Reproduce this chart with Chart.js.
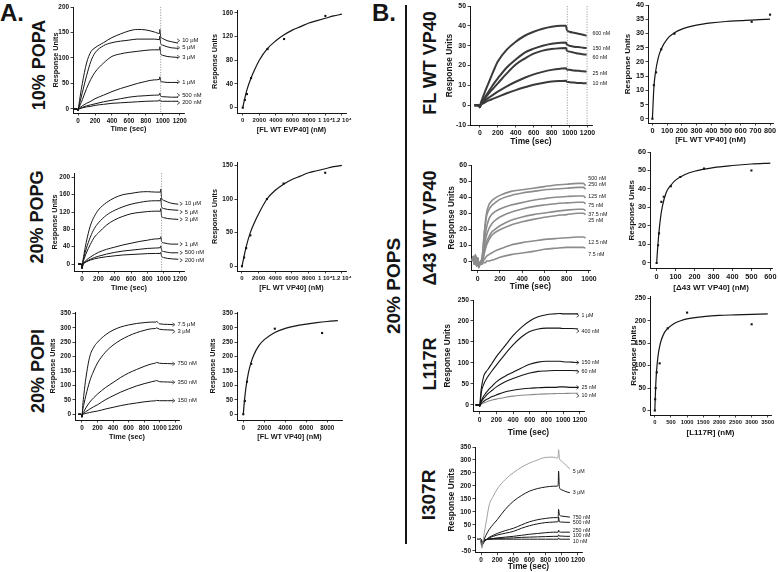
<!DOCTYPE html>
<html>
<head>
<meta charset="utf-8">
<title>VP40 lipid binding (SPR)</title>
<script src="https://cdn.jsdelivr.net/npm/chart.js@4.4.1/dist/chart.umd.min.js"></script>
<style>
  html, body { margin: 0; padding: 0; background: #fff; }
  body { position: relative; width: 778px; height: 572px; overflow: hidden;
         font-family: "Liberation Sans", Arial, sans-serif; color: #151515; }
  canvas { position: absolute; }
  .lbl { position: absolute; font-weight: bold; white-space: nowrap; line-height: 1; }
  .v { transform: translate(-50%, -50%) rotate(-90deg); }
  .rule { position: absolute; left: 405px; top: 5px; width: 2px; height: 539px; background: #151515; }
</style>
</head>
<body>
<div class="lbl" style="left:0px;top:1px;font-size:24px">A.</div>
<div class="lbl" style="left:372px;top:1px;font-size:24px">B.</div>
<div class="lbl v" style="left:39px;top:65px;font-size:18px">10% POPA</div>
<div class="lbl v" style="left:37px;top:217px;font-size:18px">20% POPG</div>
<div class="lbl v" style="left:38px;top:371px;font-size:18px">20% POPI</div>
<div class="lbl v" style="left:393px;top:286px;font-size:19px">20% POPS</div>
<div class="lbl v" style="left:430px;top:63px;font-size:18px">FL WT VP40</div>
<div class="lbl v" style="left:430px;top:228px;font-size:18px">Δ43 WT VP40</div>
<div class="lbl v" style="left:430px;top:364px;font-size:18px">L117R</div>
<div class="lbl v" style="left:428px;top:495px;font-size:19px">I307R</div>
<div class="rule"></div>

<script>
// ---------- values ----------

// A. 10% POPA  (time in s, response in RU)
const popaTime = [-50, -10, 0, 10, 25, 50, 100, 150, 200, 300, 400, 500, 600, 700, 800, 900, 960, 965, 975, 1000, 1050, 1100, 1180];
const popaConc = ['10 μM', '5 μM', '3 μM', '1 μM', '500 nM', '200 nM'];
const popaRU = [
  [0, 0, -3, 8, 25, 50, 90, 112, 120, 130, 140, 147, 153, 156, 155, 151, 148, 156, 142, 138, 134, 132, 129],
  [0, 0, -3, 5, 15, 32, 65, 93, 110, 124, 130, 133, 135, 137, 137, 137, 136, 143, 128, 125, 122, 120, 119],
  [0, 0, -3, 3, 8, 18, 40, 58, 72, 90, 103, 108, 111, 113, 115, 116, 116, 122, 108, 105, 103, 102, 101],
  [0, 0, -3, 1, 3, 6, 11, 15, 20, 27, 34, 40, 45, 50, 54, 57, 58, 63, 54, 53, 52, 52, 52],
  [0, 0, -3, 0, 1, 3, 6, 8, 10, 14, 17, 20, 23, 25, 26, 27, 27.5, 31, 25, 24, 23.5, 23, 23],
  [0, 0, -3, 0, 1, 2, 4, 5, 7, 9, 11, 12, 13, 14, 15, 15.5, 16, 18, 15, 15, 15, 15, 15]
];
const popaTagRU = [134, 120, 102, 53, 27, 12];
const popaBindNM = [0, 250, 500, 1000, 3000, 5000, 10000];
const popaBindRU = [0, 13, 23, 50, 99, 116, 155];
const popaFitNM = [0, 250, 500, 1000, 1500, 2000, 3000, 4000, 5000, 6000, 7000, 8000, 9000, 10000, 11000, 12000];
const popaFitRU = [0, 16, 30, 50, 66, 80, 100, 113, 123, 131, 137, 143, 147, 151, 155, 158];

// A. 20% POPG
const popgTime = [-50, -10, 0, 10, 25, 50, 100, 150, 200, 300, 400, 500, 600, 700, 800, 900, 960, 965, 975, 1000, 1050, 1100, 1180];
const popgConc = ['10 μM', '5 μM', '3 μM', '1 μM', '500 nM', '200 nM'];
const popgRU = [
  [0, 0, -10, 8, 25, 50, 88, 110, 125, 142, 153, 160, 163, 166, 167, 166, 166, 173, 152, 147, 143, 140, 138],
  [0, 0, -10, 5, 18, 35, 62, 82, 95, 113, 124, 132, 138, 142, 145, 146, 146, 152, 132, 128, 126, 125, 124],
  [0, 0, -10, 3, 12, 25, 45, 62, 72, 90, 102, 110, 116, 119, 121, 122, 122, 128, 110, 107, 105, 104, 103],
  [0, 0, -10, 1, 4, 9, 16, 22, 27, 34, 39, 44, 48, 52, 55, 58, 59, 63, 52, 49, 47, 46, 46],
  [0, 0, -10, 0, 3, 6, 11, 15, 18, 23, 27, 30, 32, 34, 36, 37, 38, 42, 32, 29, 27, 26, 26],
  [0, 0, -10, 0, 2, 5, 9, 12, 14, 17, 19, 21, 22, 23, 24, 24.5, 24.5, 27, 18, 15, 13, 12, 11]
];
const popgTagRU = [139, 120, 103, 46, 26, 9];
const popgBindNM = [0, 250, 500, 1000, 3000, 5000, 10000];
const popgBindRU = [0, 13, 27, 46, 100, 123, 139];
const popgFitNM = [0, 250, 500, 1000, 1500, 2000, 3000, 4000, 5000, 6000, 7000, 8000, 9000, 10000, 11000, 12000];
const popgFitRU = [0, 15, 29, 50, 65, 78, 100, 113, 122, 129, 134, 139, 142, 145, 148, 150];

// A. 20% POPI
const popiTime = [-50, -10, 0, 10, 25, 50, 100, 150, 200, 300, 400, 500, 600, 700, 800, 900, 950, 960, 1000, 1100, 1180];
const popiConc = ['7.5 μM', '3 μM', '750 nM', '350 nM', '150 nM'];
const popiRU = [
  [0, 0, -10, 30, 70, 125, 200, 232, 250, 275, 292, 303, 310, 315, 318, 320, 320, 322, 314, 312, 311],
  [0, 0, -10, 15, 35, 65, 115, 150, 178, 215, 240, 258, 272, 283, 291, 297, 298, 300, 295, 293, 292],
  [0, 0, -10, 3, 10, 22, 42, 57, 70, 92, 110, 128, 143, 155, 166, 175, 178, 180, 177, 176, 175],
  [0, 0, -10, 1, 4, 9, 18, 26, 33, 50, 64, 77, 88, 98, 106, 113, 116, 117, 113, 112, 111],
  [0, 0, -10, 0, 1, 3, 6, 9, 11, 18, 24, 30, 35, 39, 43, 46, 47, 48, 47, 47, 47]
];
const popiTagRU = [311, 287, 175, 111, 47];
const popiBindNM = [0, 150, 350, 750, 3000, 7500];
const popiBindRU = [0, 46, 113, 175, 297, 282];
const popiFitNM = [0, 100, 250, 500, 750, 1000, 1500, 2000, 3000, 4000, 5000, 6000, 7000, 8000, 9000];
const popiFitRU = [0, 44, 92, 146, 181, 206, 239, 259, 284, 298, 307, 313, 318, 322, 325];

// B. 20% POPS, FL WT VP40
const flTime = [-60, -30, -10, 0, 10, 25, 50, 100, 150, 200, 300, 400, 500, 600, 700, 800, 900, 960, 970, 1000, 1050, 1100, 1150, 1190];
const flConc = ['600 nM', '150 nM', '60 nM', '25 nM', '10 nM'];
const flRU = [
  [0, 0, 0, -1, 1, 3, 6, 11.5, 17, 22, 28, 32, 35, 37, 38.5, 39.5, 40, 40, 38, 37, 36.5, 36, 35.5, 35],
  [0, 0, 0, -1, 0.5, 1.5, 3.5, 7, 10.5, 13.5, 19, 23, 26.5, 28.5, 30, 31, 31.5, 31.6, 30.5, 30, 29.5, 29.3, 29, 28.8],
  [0, 0, 0, -1, 0.5, 1.5, 3, 6, 8.5, 11, 16, 20.5, 23.5, 26, 27.5, 28.3, 28.7, 28.8, 27.5, 27, 26.5, 26, 25.7, 25.4],
  [0, 0, 0, -1, 0.3, 1, 2, 3.8, 5.3, 6.8, 9.5, 11.8, 13.8, 15.5, 16.8, 17.8, 18.4, 18.6, 18, 17.8, 17.5, 17.3, 17.1, 17],
  [0, 0, 0, -1, 0.2, 0.6, 1.2, 2.4, 3.3, 4.2, 6, 7.6, 9, 10.3, 11.2, 11.9, 12.2, 12.3, 11.8, 11.6, 11.4, 11.2, 11.1, 11]
];
const flTagRU = [36, 28.4, 24, 16.1, 10.7];
const flBindNM = [0, 10, 25, 60, 150, 675, 800];
const flBindRU = [0, 11.8, 16.3, 24.4, 29.9, 34.1, 36.6];
const flFitNM = [0, 10, 20, 40, 60, 100, 150, 200, 300, 400, 500, 600, 700, 800];
const flFitRU = [0, 11, 16, 21.5, 24.5, 28, 30.2, 31.5, 32.9, 33.7, 34.2, 34.5, 34.8, 35];

// B. Δ43 WT VP40
const d43Time = [-50, -40, -30, -20, -10, 0, 10, 20, 30, 40, 50, 60, 70, 80, 100, 125, 150, 200, 300, 400, 500, 600, 700, 800, 900, 950, 970];
const d43Conc = ['500 nM', '250 nM', '125 nM', '75 nM', '37.5 nM', '25 nM', '12.5 nM', '7.5 nM'];
const d43RU = [
  [0, 3, -2, 4, -3, 2, -4, -1, 0, 2, 10, 18, 25, 30, 35, 37.5, 39, 41, 43.5, 44.5, 45.5, 46.5, 47.5, 48, 48.5, 48.5, 47],
  [0, 3, -2, 4, -3, 2, -4, -1, 0, 2, 9, 17, 23, 28, 32, 34.5, 36, 38.5, 41, 42.5, 43.5, 44.5, 45, 45.5, 46, 46, 45],
  [0, 3, -2, 4, -3, 2, -4, -1, 0, 1, 6, 12, 17, 21, 26, 29, 30.5, 32.5, 35, 36.5, 38, 39, 39.8, 40.3, 40.6, 40.6, 39.5],
  [0, 2, -2, 3, -3, 2, -4, -1, -1, 0, 4, 9, 13, 16, 20, 23, 25, 27.5, 30.5, 32.5, 34, 35, 35.8, 36.3, 36.7, 36.7, 35.8],
  [0, 2, -2, 3, -3, 1, -4, -2, -1, 0, 2, 6, 9, 12, 15, 18, 19.5, 22, 25.5, 27.5, 29, 30, 31, 31.8, 32.3, 32.3, 31.5],
  [0, 2, -2, 3, -3, 1, -4, -2, -1, 0, 2, 5, 7.5, 10, 13, 16, 17.5, 19.5, 22.5, 24.5, 26, 27.3, 28.3, 29, 29.8, 29.8, 29],
  [0, 2, -2, 3, -3, 1, -4, -2, -2, -1, 0, 1, 2, 3, 4, 5, 6, 7.5, 10, 11.5, 12.5, 13.5, 14, 14.5, 15, 15, 14.5],
  [0, 2, -2, 3, -3, 1, -4, -2, -2, -2, -1, -1, -1, 0, 0, 0.5, 1, 2.3, 4, 5, 6, 7.3, 8, 8.5, 8.5, 8.5, 8]
];
const d43TagRU = [51.3, 47.5, 40.6, 34.8, 29.2, 25.4, 11.5, 4.2];
const d43BindNM = [0, 7.5, 12.5, 25, 37.5, 75, 125, 250, 500];
const d43BindRU = [0, 9.6, 16, 33, 35.8, 41.5, 46.5, 51, 50];
const d43FitNM = [0, 5, 10, 20, 30, 50, 75, 100, 150, 200, 300, 400, 500, 600];
const d43FitRU = [0, 7.5, 14, 24, 30.5, 38, 42, 44.8, 47.8, 49.6, 51.6, 52.7, 53.5, 54];

// B. L117R
const l117Time = [-50, -10, 0, 10, 20, 50, 80, 100, 150, 200, 300, 400, 500, 600, 700, 800, 900, 960, 1000, 1100, 1180];
const l117Conc = ['1 μM', '400 nM', '150 nM', '60 nM', '25 nM', '10 nM'];
const l117RU = [
  [0, 0, -3, 20, 40, 70, 80, 85, 100, 115, 140, 165, 185, 200, 210, 215, 217, 218, 217, 217, 217],
  [0, 0, -3, 12, 30, 50, 62, 68, 82, 95, 120, 143, 162, 175, 181, 183, 183, 183, 182, 182, 181],
  [0, 0, -3, 4, 10, 22, 30, 35, 45, 55, 68, 78, 88, 97, 102, 104, 104, 104, 103, 102, 101],
  [0, 0, -3, 3, 8, 16, 23, 27, 35, 43, 55, 63, 70, 76, 80, 81, 82, 82, 82, 82, 81],
  [0, 0, -3, 1, 4, 9, 13, 15, 20, 24, 31, 35, 38, 40, 41, 42, 42, 43, 43, 42, 42],
  [0, 0, -3, 0, 2, 5, 7, 9, 12, 14, 18, 21, 23, 24.5, 25.5, 26.5, 27, 27.5, 27.5, 28, 28]
];
const l117TagRU = [213, 176, 101, 79, 42, 22];
const l117BindNM = [0, 10, 25, 60, 150, 400, 1000, 3000];
const l117BindRU = [0, 25, 50, 85, 105, 183, 218, 192];
const l117FitNM = [0, 25, 50, 100, 150, 200, 300, 400, 600, 800, 1000, 1500, 2000, 2500, 3000, 3500];
const l117FitRU = [0, 52, 85, 122, 143, 157, 174, 183, 194, 200, 204, 209, 212, 213, 214, 215];

// B. I307R
const i307Time = [-50, -10, 0, 10, 20, 40, 60, 100, 150, 200, 300, 400, 500, 600, 700, 800, 900, 940, 955, 960, 970, 1000, 1050, 1100];
const i307Conc = ['5 μM', '3 μM', '750 nM', '500 nM', '250 nM', '100 nM', '10 nM'];
const i307RU = [
  [-3, -3, -20, -40, -25, 20, 55, 125, 160, 188, 225, 251, 272, 288, 300, 310, 311, 307, 315, 340, 308, 295, 280, 265],
  [-3, -3, -15, -35, -25, -5, 10, 32, 52, 70, 110, 141, 163, 180, 190, 196, 199, 199, 205, 257, 195, 185, 178, 174],
  [-3, -3, -10, -30, -25, -15, -8, 2, 10, 17, 28, 37, 50, 62, 70, 75, 78, 78, 80, 110, 88, 84, 82, 80],
  [-3, -3, -10, -28, -22, -14, -8, 0, 6, 11, 18, 25, 37, 47, 54, 59, 61, 62, 63, 80, 62, 61, 60, 60],
  [-3, -3, -8, -25, -18, -12, -8, -4, -2, 0, 3, 6, 10, 14, 17, 20, 22, 22, 22, 30, 23, 22, 22, 22],
  [-3, -3, -8, -22, -15, -10, -7, -5, -3, -2, -1, 0, 2, 3, 4, 5, 6, 6, 6, 12, 7, 7, 6, 6],
  [-3, -3, -8, -20, -12, -8, -6, -5, -5, -5, -5, -5, -5, -5, -5, -5, -5, -5, -5, 0, -5, -5, -5, -5]
];
const i307TagRU = [255, 173, 80, 59, 28, 8, -14];

// tick values / labels
const secTicks = [0, 200, 400, 600, 800, 1000, 1200];
const secTicks1000 = [0, 200, 400, 600, 800, 1000];
const nmTicksA = [0, 2000, 4000, 6000, 8000, 10000, 12000];
const nmTickLabelsA = ['0', '2000', '4000', '6000', '8000', '1 10⁴', '1.2 10⁴'];
const nmTicksPopi = [0, 2000, 4000, 6000, 8000];
const ruTicksPopa = [0, 50, 100, 150, 200];
const ruTicksPopg = [0, 40, 80, 120, 160, 200];
const ruTicksPopi = [0, 50, 100, 150, 200, 250, 300, 350];
const ruTicksPopaBind = [0, 40, 80, 120, 160];
const ruTicksPopgBind = [0, 50, 100, 150];
const ruTicksFl = [-10, 0, 10, 20, 30, 40, 50];
const ruTicksFlBind = [0, 5, 10, 15, 20, 25, 30, 35, 40];
const nmTicksFl = [0, 100, 200, 300, 400, 500, 600, 700, 800];
const ruTicksD43 = [0, 10, 20, 30, 40, 50, 60];
const nmTicksD43 = [0, 100, 200, 300, 400, 500, 600];
const ruTicksL117 = [0, 50, 100, 150, 200, 250];
const nmTicksL117 = [0, 500, 1000, 1500, 2000, 2500, 3000, 3500];
const ruTicksI307 = [-50, 0, 50, 100, 150, 200, 250, 300, 350];

// ---------- drawing ----------
const INK = '#151515';
const FONT = '"Liberation Sans", Arial, sans-serif';
Chart.defaults.font.family = FONT;
Chart.defaults.color = INK;

// concentration tags, dotted injection marks
const tagPlugin = {
  id: 'tags',
  afterDatasetsDraw(chart, args, o) {
    const {ctx, chartArea: a} = chart;
    const x = chart.scales.x, y = chart.scales.y;
    ctx.save();
    ctx.strokeStyle = '#777';
    ctx.lineWidth = 0.7;
    ctx.setLineDash([1.2, 1.4]);
    (o.vlines || []).forEach(t => {
      const px = x.getPixelForValue(t);
      ctx.beginPath(); ctx.moveTo(px, a.top); ctx.lineTo(px, a.bottom); ctx.stroke();
    });
    ctx.setLineDash([]);
    if (o.text) {
      const px = x.getPixelForValue(o.at);
      ctx.font = o.size + 'px ' + FONT;
      ctx.fillStyle = INK;
      ctx.strokeStyle = INK;
      ctx.textBaseline = 'middle';
      o.text.forEach((s, i) => {
        const py = y.getPixelForValue(o.ru[i]);
        if (o.arrow) {
          ctx.beginPath();
          ctx.moveTo(px - 5, py - 1.8); ctx.lineTo(px - 2.5, py); ctx.lineTo(px - 5, py + 1.8);
          ctx.stroke();
        }
        ctx.fillText(s, px, py);
      });
    }
    ctx.restore();
  }
};

function traces(time, rows, colors, lw) {
  return rows.map((row, k) => ({
    data: time.map((t, i) => ({x: t, y: row[i]})),
    showLine: true, pointRadius: 0, borderWidth: lw,
    borderColor: colors[k] || colors[0], cubicInterpolationMode: 'monotone'
  }));
}

function isotherm(fitX, fitY, ptX, ptY) {
  return [
    {data: fitX.map((v, i) => ({x: v, y: fitY[i]})), showLine: true, pointRadius: 0,
     borderColor: INK, borderWidth: 1.2, cubicInterpolationMode: 'monotone'},
    {data: ptX.map((v, i) => ({x: v, y: ptY[i]})), showLine: false, pointRadius: 1.5,
     pointStyle: 'rect', backgroundColor: INK, borderColor: INK, borderWidth: 0}
  ];
}

// g: chart-area box (l,t,r,b), y-title centre x (yT), x-title centre y (xT), right room, fonts
function panel(g, s) {
  const lh = g.tf * 1.2;
  const left = Math.round(g.yT - lh / 2), top = Math.round(g.t - 6);
  const right = Math.round(g.r + g.padR), bottom = Math.round(g.xT + lh / 2);
  const cv = document.createElement('canvas');
  cv.width = right - left;
  cv.height = bottom - top;
  cv.style.left = left + 'px';
  cv.style.top = top + 'px';
  cv.style.width = (right - left) + 'px';
  cv.style.height = (bottom - top) + 'px';
  document.body.appendChild(cv);
  const yW = g.l - left, xH = bottom - g.b;

  const axis = (range, ticks, labels, title, fit, pos, size) => ({
    type: 'linear', position: pos, min: range[0], max: range[1],
    afterBuildTicks: sc => { sc.ticks = ticks.map(v => ({value: v})); },
    afterFit: fit,
    ticks: {autoSkip: false, maxRotation: 0, padding: 1.5, color: INK,
            font: {size: size, weight: 'bold'},
            callback: (v, i) => labels ? labels[i] : String(v)},
    grid: {drawOnChartArea: false, tickLength: 2.5, color: INK, lineWidth: 0.8},
    border: {color: INK, width: 1},
    title: {display: true, text: title, padding: 0, color: INK, font: {size: g.tf, weight: 'bold'}}
  });

  new Chart(cv, {
    type: 'scatter',
    data: {datasets: s.datasets},
    options: {
      responsive: false, maintainAspectRatio: false, animation: false, devicePixelRatio: 1,
      layout: {padding: {left: 0, top: g.t - top, right: right - g.r, bottom: 0}},
      plugins: {legend: {display: false}, tooltip: {enabled: false}, tags: s.tags || {}},
      scales: {
        x: axis(s.xr, s.xt, s.xtl, s.xTitle, sc => { sc.height = xH; }, 'bottom', g.tkx || g.tk),
        y: axis(s.yr, s.yt, null, 'Response Units', sc => { sc.width = yW; }, 'left', g.tk)
      }
    },
    plugins: [tagPlugin]
  });
}

const dark = [INK];

// ---- A ----
panel({l: 73, t: 7, r: 184, b: 113, yT: 56, xT: 129, padR: 24, tf: 7.3, tk: 6.4}, {
  xr: [-60, 1250], yr: [-8, 200], xt: secTicks, yt: ruTicksPopa, xTitle: 'Time (sec)',
  datasets: traces(popaTime, popaRU, dark, 1),
  tags: {text: popaConc, ru: popaTagRU, at: 1228, size: 5.8, arrow: true, vlines: [975]}
});
panel({l: 237, t: 10, r: 346, b: 113, yT: 215, xT: 130, padR: 20, tf: 7.3, tk: 6.4, tkx: 6}, {
  xr: [-700, 12500], yr: [-9, 165], xt: nmTicksA, xtl: nmTickLabelsA, yt: ruTicksPopaBind,
  xTitle: '[FL WT EVP40] (nM)',
  datasets: isotherm(popaFitNM, popaFitRU, popaBindNM, popaBindRU)
});
panel({l: 74, t: 173, r: 184, b: 271, yT: 55, xT: 288, padR: 24, tf: 7.3, tk: 6.4}, {
  xr: [-100, 1250], yr: [-16, 210], xt: secTicks, yt: ruTicksPopg, xTitle: 'Time (sec)',
  datasets: traces(popgTime, popgRU, dark, 1),
  tags: {text: popgConc, ru: popgTagRU, at: 1260, size: 5.8, arrow: true, vlines: [975]}
});
panel({l: 237, t: 162, r: 346, b: 271, yT: 215, xT: 288, padR: 20, tf: 7.3, tk: 6.4, tkx: 6}, {
  xr: [-600, 12500], yr: [-7, 155], xt: nmTicksA, xtl: nmTickLabelsA, yt: ruTicksPopgBind,
  xTitle: '[FL WT VP40] (nM)',
  datasets: isotherm(popgFitNM, popgFitRU, popgBindNM, popgBindRU)
});
panel({l: 75, t: 312, r: 179, b: 420, yT: 53, xT: 437, padR: 26, tf: 7.3, tk: 6.4}, {
  xr: [-90, 1250], yr: [-20, 355], xt: secTicks, yt: ruTicksPopi, xTitle: 'Time (sec)',
  datasets: traces(popiTime, popiRU, dark, 1),
  tags: {text: popiConc, ru: popiTagRU, at: 1230, size: 5.8, arrow: true}
});
panel({l: 237, t: 312, r: 342, b: 420, yT: 213, xT: 437, padR: 14, tf: 7.3, tk: 6.4}, {
  xr: [-600, 9400], yr: [-20, 355], xt: nmTicksPopi, yt: ruTicksPopi,
  xTitle: '[FL WT VP40] (nM)',
  datasets: isotherm(popiFitNM, popiFitRU, popiBindNM, popiBindRU)
});

// ---- B ----
panel({l: 470, t: 6, r: 592, b: 125, yT: 450, xT: 142, padR: 22, tf: 8.4, tk: 6.9}, {
  xr: [-110, 1250], yr: [-10, 50], xt: secTicks, yt: ruTicksFl, xTitle: 'Time (sec)',
  datasets: traces(flTime, flRU, ['#3a3a3a'], 2),
  tags: {text: flConc, ru: flTagRU, at: 1255, size: 5.3, vlines: [975, 1195]}
});
panel({l: 648, t: 5, r: 773, b: 123, yT: 628, xT: 140, padR: 5, tf: 8, tk: 7.3}, {
  xr: [-30, 820], yr: [-1.5, 40], xt: nmTicksFl, yt: ruTicksFlBind,
  xTitle: '[FL WT VP40] (nM)',
  datasets: isotherm(flFitNM, flFitRU, flBindNM, flBindRU)
});
panel({l: 471, t: 165, r: 590, b: 270.6, yT: 452, xT: 287, padR: 22, tf: 8.4, tk: 6.9}, {
  xr: [-60, 1010], yr: [-6, 60], xt: secTicks1000, yt: ruTicksD43, xTitle: 'Time (sec)',
  datasets: traces(d43Time, d43RU, ['#8c8c8c'], 1.6),
  tags: {text: d43Conc, ru: d43TagRU, at: 995, size: 5.3}
});
panel({l: 650, t: 152, r: 774, b: 268.5, yT: 632, xT: 288, padR: 4, tf: 8, tk: 7.3}, {
  xr: [-35, 610], yr: [-3, 60], xt: nmTicksD43, yt: ruTicksD43,
  xTitle: '[Δ43 WT VP40] (nM)',
  datasets: isotherm(d43FitNM, d43FitRU, d43BindNM, d43BindRU)
});
panel({l: 473, t: 300, r: 584, b: 411.7, yT: 448, xT: 433, padR: 22, tf: 8.4, tk: 6.7}, {
  xr: [-80, 1250], yr: [-16, 250], xt: secTicks, yt: ruTicksL117, xTitle: 'Time (sec)',
  datasets: traces(l117Time, l117RU, [INK, INK, INK, INK, INK, '#8a8a8a'], 1.1),
  tags: {text: l117Conc, ru: l117TagRU, at: 1220, size: 5.3, arrow: true}
});
panel({l: 650, t: 296, r: 771, b: 415, yT: 634, xT: 433, padR: 7, tf: 8, tk: 6.8, tkx: 5.8}, {
  xr: [-150, 3600], yr: [-10, 255], xt: nmTicksL117, yt: ruTicksL117,
  xTitle: '[L117R] (nM)',
  datasets: isotherm(l117FitNM, l117FitRU, l117BindNM, l117BindRU)
});
panel({l: 475, t: 447, r: 582, b: 552.7, yT: 452, xT: 567, padR: 22, tf: 8.4, tk: 6.5}, {
  xr: [-75, 1250], yr: [-57, 350], xt: secTicks, yt: ruTicksI307, xTitle: 'Time (sec)',
  datasets: traces(i307Time, i307RU, ['#a0a0a0', INK, INK, INK, INK, INK, INK], 1),
  tags: {text: i307Conc, ru: i307TagRU, at: 1135, size: 5.3}
});
</script>
</body>
</html>
